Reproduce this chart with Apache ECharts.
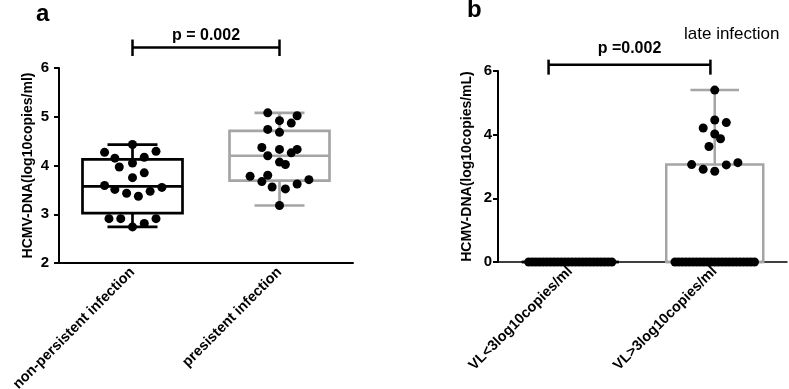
<!DOCTYPE html>
<html>
<head>
<meta charset="utf-8">
<script src="https://cdn.jsdelivr.net/npm/echarts@6/dist/echarts.min.js"></script>
<style>
html, body { margin: 0; padding: 0; background: #fff; }
#chart { width: 789px; height: 389px; }
</style>
</head>
<body>
<div id="chart"></div>
<script>
// panel a
var panelACategories = ['non-persistent infection', 'presistent infection'];
var nonPersistentValues = [4.43, 4.27, 4.29, 4.15, 4.17, 4.05, 3.97, 3.85, 3.75, 3.59, 3.51, 3.43, 3.37, 3.47, 3.55, 2.91, 2.91, 2.74, 2.81, 2.91];
var nonPersistentSpread = [0, -0.19, 0.16, -0.12, 0.08, 0, -0.09, 0.08, 0, -0.19, -0.12, -0.04, 0.04, 0.12, 0.2, -0.16, -0.08, 0, 0.08, 0.16];
var persistentValues = [5.08, 4.92, 4.87, 5.02, 4.74, 4.68, 4.37, 4.33, 4.33, 4.20, 4.26, 4.07, 4.02, 3.78, 3.80, 3.67, 3.56, 3.52, 3.62, 3.71, 3.18];
var persistentSpread = [-0.08, 0, 0.08, 0.12, -0.08, 0, -0.12, 0, 0.12, -0.08, 0.08, 0, 0.04, -0.2, -0.08, -0.12, -0.05, 0.04, 0.12, 0.2, 0];
var panelATicks = [2, 3, 4, 5, 6];
var pValueA = 'p = 0.002';

// panel b
var panelBCategories = ['VL<3log10copies/ml', 'VL>3log10copies/ml'];
var lowVLValues = [0, 0, 0, 0, 0, 0, 0, 0, 0, 0, 0, 0, 0, 0, 0, 0, 0, 0, 0, 0, 0, 0, 0, 0];
var highVLDetected = [5.40, 4.46, 4.38, 4.21, 4.02, 3.87, 3.63, 3.06, 3.12, 3.05, 2.91, 2.85];
var highVLSpread = [0, 0, 0.08, -0.08, 0, 0.04, -0.04, -0.16, 0.16, 0.08, -0.08, 0];
var highVLZeros = [0, 0, 0, 0, 0, 0, 0, 0, 0, 0, 0, 0, 0, 0, 0, 0, 0, 0, 0, 0, 0, 0, 0];
var panelBTicks = [0, 2, 4, 6];
var pValueB = 'p =0.002';

var yTitleA = 'HCMV-DNA(log10copies/ml)';
var yTitleB = 'HCMV-DNA(log10copies/mL)';

var FONT = 'Liberation Sans, Arial, sans-serif';
var GREY = '#a5a5a5';
var TIE_STEP = 0.025;   // horizontal step for tied values in a row

// quartiles the way prism does it: position p*(n+1)
function quantile(sorted, p) {
    var pos = p * (sorted.length + 1);
    if (pos <= 1) return sorted[0];
    if (pos >= sorted.length) return sorted[sorted.length - 1];
    var lo = Math.floor(pos), frac = pos - lo;
    return sorted[lo - 1] + frac * (sorted[lo] - sorted[lo - 1]);
}
function boxStats(idx, values) {
    var s = values.slice().sort(function (a, b) { return a - b; });
    return [idx, s[0], quantile(s, 0.25), quantile(s, 0.5), quantile(s, 0.75), s[s.length - 1]];
}
function dots(idx, values, spread) {
    return values.map(function (v, i) { return [idx + spread[i], v]; });
}
function tieRow(idx, values) {
    var n = values.length;
    return values.map(function (v, i) { return [idx + (i - (n - 1) / 2) * TIE_STEP, v]; });
}

function boxRenderer(color, boxW, lineW) {
    return function (params, api) {
        var x = api.value(0);
        var lo = api.coord([x, api.value(1)]);
        var q1 = api.coord([x, api.value(2)]);
        var med = api.coord([x, api.value(3)]);
        var q3 = api.coord([x, api.value(4)]);
        var hi = api.coord([x, api.value(5)]);
        var cx = med[0], hw = boxW / 2, cw = boxW / 4;
        var st = { stroke: color, lineWidth: lineW, fill: 'none' };
        return {
            type: 'group',
            children: [
                { type: 'line', shape: { x1: cx, y1: hi[1], x2: cx, y2: q3[1] }, style: st },
                { type: 'line', shape: { x1: cx, y1: q1[1], x2: cx, y2: lo[1] }, style: st },
                { type: 'line', shape: { x1: cx - cw, y1: hi[1], x2: cx + cw, y2: hi[1] }, style: st },
                { type: 'line', shape: { x1: cx - cw, y1: lo[1], x2: cx + cw, y2: lo[1] }, style: st },
                { type: 'rect', shape: { x: cx - hw, y: q3[1], width: boxW, height: q1[1] - q3[1] }, style: st },
                { type: 'line', shape: { x1: cx - hw, y1: med[1], x2: cx + hw, y2: med[1] }, style: st }
            ]
        };
    };
}

function bracketRenderer(label, up, down, textGap) {
    return function (params, api) {
        var a = api.coord([api.value(0), api.value(2)]);
        var b = api.coord([api.value(1), api.value(2)]);
        var st = { stroke: '#000', lineWidth: 2.5 };
        return {
            type: 'group',
            children: [
                { type: 'line', shape: { x1: a[0], y1: a[1], x2: b[0], y2: b[1] }, style: st },
                { type: 'line', shape: { x1: a[0], y1: a[1] - up, x2: a[0], y2: a[1] + down }, style: st },
                { type: 'line', shape: { x1: b[0], y1: b[1] - up, x2: b[0], y2: b[1] + down }, style: st },
                { type: 'text', style: { x: (a[0] + b[0]) / 2, y: a[1] - textGap, text: label,
                    align: 'center', verticalAlign: 'middle', font: 'bold 16px ' + FONT, fill: '#000' } }
            ]
        };
    };
}

function catAxis(grid, cats, lw) {
    return {
        gridIndex: grid, type: 'category', data: cats,
        axisLine: { onZero: false, lineStyle: { color: '#000', width: lw } },
        axisTick: { alignWithLabel: true, length: 5, lineStyle: { color: '#000', width: lw } },
        axisLabel: { rotate: 45, margin: 7, color: '#000', fontWeight: 'bold', fontSize: 14.5, fontFamily: FONT, interval: 0 },
        splitLine: { show: false }
    };
}
function valAxis(grid) {
    return { gridIndex: grid, type: 'value', min: -0.5, max: 1.5, show: false };
}
function yAxis(grid, ticks, name, labelGap) {
    return {
        gridIndex: grid, type: 'value',
        min: ticks[0], max: ticks[ticks.length - 1], interval: ticks[1] - ticks[0],
        name: name, nameLocation: 'middle', nameRotate: 90, nameGap: 24,
        nameTextStyle: { color: '#000', fontWeight: 'bold', fontSize: 14, fontFamily: FONT },
        axisLine: { show: true, onZero: false, lineStyle: { color: '#000', width: 2 } },
        axisTick: { show: true, length: 5, lineStyle: { color: '#000', width: 2 } },
        axisLabel: { margin: labelGap, color: '#000', fontWeight: 'bold', fontSize: 15, fontFamily: FONT },
        splitLine: { show: false }
    };
}

var dotStyle = { color: '#000', opacity: 1 };

var myChart = echarts.init(document.getElementById('chart'));
var option = {
    animation: false,
    backgroundColor: '#fff',
    grid: [
        { left: 59, top: 68, width: 294, height: 195, containLabel: false, outerBoundsMode: 'none' },
        { left: 498, top: 71, width: 289, height: 191, containLabel: false, outerBoundsMode: 'none' }
    ],
    xAxis: [
        catAxis(0, panelACategories, 2),
        valAxis(0),
        catAxis(1, panelBCategories, 1.5),
        valAxis(1)
    ],
    yAxis: [
        yAxis(0, panelATicks, yTitleA, 10),
        yAxis(1, panelBTicks, yTitleB, 6)
    ],
    graphic: [
        { type: 'text', left: 36, top: 2, style: { text: 'a', font: 'bold 24px ' + FONT, fill: '#000' } },
        { type: 'text', left: 467, top: -2, style: { text: 'b', font: 'bold 24px ' + FONT, fill: '#000' } },
        { type: 'text', left: 684, top: 26, style: { text: 'late infection', font: '17px ' + FONT, fill: '#000' } }
    ],
    series: [
        { type: 'custom', xAxisIndex: 1, yAxisIndex: 0, renderItem: boxRenderer('#000', 100, 2.7),
          data: [boxStats(0, nonPersistentValues)], encode: { x: 0, y: [1, 2, 3, 4, 5] }, z: 2 },
        { type: 'custom', xAxisIndex: 1, yAxisIndex: 0, renderItem: boxRenderer(GREY, 100, 2.7),
          data: [boxStats(1, persistentValues)], encode: { x: 0, y: [1, 2, 3, 4, 5] }, z: 2 },
        { type: 'scatter', xAxisIndex: 1, yAxisIndex: 0, symbolSize: 9, itemStyle: dotStyle, z: 5,
          data: dots(0, nonPersistentValues, nonPersistentSpread).concat(dots(1, persistentValues, persistentSpread)) },
        { type: 'custom', xAxisIndex: 1, yAxisIndex: 0, renderItem: bracketRenderer(pValueA, 8, 8.5, 12),
          data: [[0, 1, 6.42]], encode: { x: [0, 1], y: 2 }, z: 6 },

        { type: 'custom', xAxisIndex: 3, yAxisIndex: 1, renderItem: boxRenderer('#000', 97, 2.5),
          data: [boxStats(0, lowVLValues)], encode: { x: 0, y: [1, 2, 3, 4, 5] }, z: 2 },
        { type: 'custom', xAxisIndex: 3, yAxisIndex: 1, renderItem: boxRenderer(GREY, 97, 2.5),
          data: [boxStats(1, highVLDetected.concat(highVLZeros))], encode: { x: 0, y: [1, 2, 3, 4, 5] }, z: 2 },
        { type: 'scatter', xAxisIndex: 3, yAxisIndex: 1, symbolSize: 9, itemStyle: dotStyle, z: 5,
          data: tieRow(0, lowVLValues).concat(tieRow(1, highVLZeros), dots(1, highVLDetected, highVLSpread)) },
        { type: 'custom', xAxisIndex: 3, yAxisIndex: 1, renderItem: bracketRenderer(pValueB, 5, 10, 16),
          data: [[-0.15, 0.97, 6.2]], encode: { x: [0, 1], y: 2 }, z: 6 }
    ]
};
myChart.setOption(option);
</script>
</body>
</html>
